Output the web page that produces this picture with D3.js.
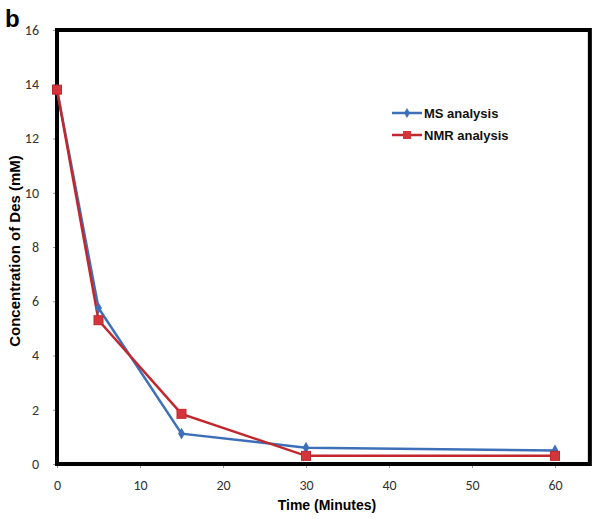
<!DOCTYPE html>
<html>
<head>
<meta charset="utf-8">
<script src="https://d3js.org/d3.v7.min.js"></script>
<style>
  body { margin: 0; background: #fff; }
  svg { display: block; }
</style>
</head>
<body>
<script>
// time points (minutes) and concentrations of Des (mM)
var times = [0, 5, 15, 30, 60];
var msValues = [13.8, 5.75, 1.12, 0.6, 0.5];
var nmrValues = [13.8, 5.3, 1.85, 0.3, 0.3];
var xTicks = [0, 10, 20, 30, 40, 50, 60];
var yTicks = [0, 2, 4, 6, 8, 10, 12, 14, 16];
var seriesNames = ["MS analysis", "NMR analysis"];

var width = 600, height = 519;
var svg = d3.select("body").append("svg").attr("width", width).attr("height", height);

//scales
var x = d3.scaleLinear().domain([0, 60]).range([57, 555]);
var y = d3.scaleLinear().domain([0, 16]).range([464, 30]);
var xRight = x(64.2);

var blue = "#3d70b8", red = "#c3272e";
var tickFont = "Calibri, 'Liberation Sans', 'Open Sans', sans-serif";

//y axis ticks + labels
var yAxis = svg.append("g").attr("transform", "translate(" + x(0) + ",0)")
  .call(d3.axisLeft(y).tickValues(yTicks).tickSize(4).tickPadding(14));
yAxis.select(".domain").remove();
yAxis.selectAll("line").attr("stroke", "#999");
yAxis.selectAll("text").attr("font-family", tickFont).attr("font-size", "14px").attr("fill", "#333");

//x axis ticks + labels
var xAxis = svg.append("g").attr("transform", "translate(0," + y(0) + ")")
  .call(d3.axisBottom(x).tickValues(xTicks).tickSize(4).tickPadding(12));
xAxis.select(".domain").remove();
xAxis.selectAll("line").attr("stroke", "#999");
xAxis.selectAll("text").attr("font-family", tickFont).attr("font-size", "14px").attr("fill", "#333");

//plot frame
svg.append("rect")
  .attr("x", x(0)).attr("y", y(16))
  .attr("width", xRight - x(0)).attr("height", y(0) - y(16))
  .attr("fill", "none").attr("stroke", "#000").attr("stroke-width", 4);

//lines
var line = d3.line().x(function(d) { return x(d[0]); }).y(function(d) { return y(d[1]); });
var msData = times.map(function(t, i) { return [t, msValues[i]]; });
var nmrData = times.map(function(t, i) { return [t, nmrValues[i]]; });

svg.append("path").datum(msData).attr("d", line)
  .attr("fill", "none").attr("stroke", blue).attr("stroke-width", 2.5);
svg.append("path").datum(nmrData).attr("d", line)
  .attr("fill", "none").attr("stroke", red).attr("stroke-width", 2.5);

//markers
svg.selectAll(".ms-pt").data(msData).enter().append("path")
  .attr("class", "ms-pt")
  .attr("transform", function(d) { return "translate(" + x(d[0]) + "," + y(d[1]) + ")"; })
  .attr("d", d3.symbol().type(d3.symbolDiamond).size(40))
  .attr("fill", blue);
svg.selectAll(".nmr-pt").data(nmrData).enter().append("rect")
  .attr("class", "nmr-pt")
  .attr("x", function(d) { return x(d[0]) - 4.5; })
  .attr("y", function(d) { return y(d[1]) - 4.5; })
  .attr("width", 9).attr("height", 9)
  .attr("fill", "#d2363a").attr("stroke", red).attr("stroke-width", 1);

//legend
var legend = svg.append("g").attr("transform", "translate(392,113)");
seriesNames.forEach(function(name, i) {
  var g = legend.append("g").attr("transform", "translate(0," + i * 22 + ")");
  var c = i === 0 ? blue : red;
  g.append("line").attr("x1", 0).attr("x2", 30).attr("y1", 0).attr("y2", 0)
    .attr("stroke", c).attr("stroke-width", 2.5);
  if (i === 0) {
    g.append("path").attr("transform", "translate(15,0)")
      .attr("d", d3.symbol().type(d3.symbolDiamond).size(30)).attr("fill", c);
  } else {
    g.append("rect").attr("x", 11).attr("y", -4).attr("width", 8).attr("height", 8).attr("fill", "#d2363a");
  }
  g.append("text").attr("x", 32).attr("y", 5).text(name)
    .attr("font-family", "Arial, 'Liberation Sans', sans-serif")
    .attr("font-size", "13px").attr("font-weight", "bold").attr("fill", "#111");
});

//axis titles
svg.append("text").text("Time (Minutes)")
  .attr("x", 327).attr("y", 510)
  .attr("text-anchor", "middle")
  .attr("font-family", "Arial, 'Liberation Sans', sans-serif")
  .attr("font-size", "14px").attr("font-weight", "bold");

svg.append("text").text("Concentration of Des (mM)")
  .attr("transform", "translate(20,251) rotate(-90)")
  .attr("text-anchor", "middle")
  .attr("font-family", "Arial, 'Liberation Sans', sans-serif")
  .attr("font-size", "15px").attr("font-weight", "bold");

//panel letter
svg.append("text").text("b")
  .attr("x", 5).attr("y", 27)
  .attr("font-family", "Arial, 'Liberation Sans', sans-serif")
  .attr("font-size", "24px").attr("font-weight", "bold");
</script>
</body>
</html>
